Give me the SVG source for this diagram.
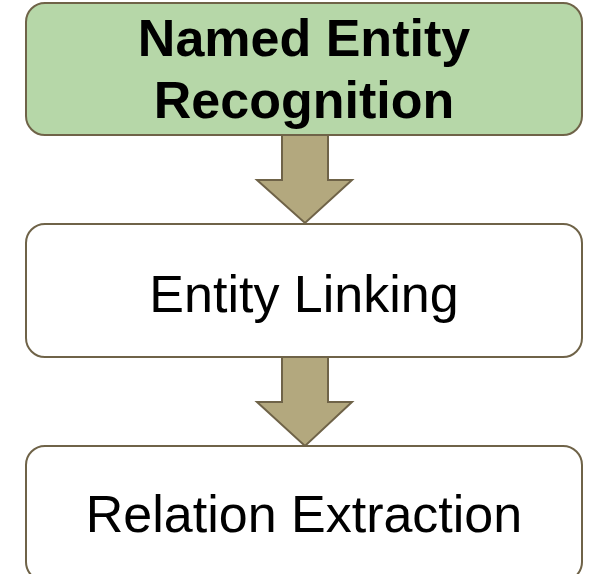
<svg xmlns="http://www.w3.org/2000/svg" width="592" height="574" viewBox="0 0 592 574">
  <style>
    .box { stroke: #6f6348; stroke-width: 2; }
    .step { fill: #ffffff; }
    .first { fill: #b6d7a8; }
    .arrow { fill: #b3a87e; stroke: #6f6348; stroke-width: 2; stroke-linejoin: miter; }
    .label { font-family: "Liberation Sans", Arial, sans-serif; font-size: 52px; fill: #000000; text-anchor: middle; }
    .bold { font-weight: bold; }
  </style>
  <rect width="592" height="574" fill="#ffffff"/>

  <g id="connectors">
    <polygon class="arrow" points="282,135 328,135 328,180 352,180 305,223 257,180 282,180"/>
    <polygon class="arrow" points="282,357 328,357 328,402 352,402 305,446 257,402 282,402"/>
  </g>

  <g id="node-ner">
    <rect class="box first" x="26" y="3" width="556" height="132" rx="19" ry="19"/>
    <text class="label bold" x="304" y="56">Named Entity</text>
    <text class="label bold" x="304" y="118">Recognition</text>
  </g>

  <g id="node-linking">
    <rect class="box step" x="26" y="224" width="556" height="133" rx="19" ry="19"/>
    <text class="label" x="304" y="312">Entity Linking</text>
  </g>

  <g id="node-relation">
    <rect class="box step" x="26" y="446" width="556" height="135" rx="19" ry="19"/>
    <text class="label" x="304" y="532">Relation Extraction</text>
  </g>
</svg>
